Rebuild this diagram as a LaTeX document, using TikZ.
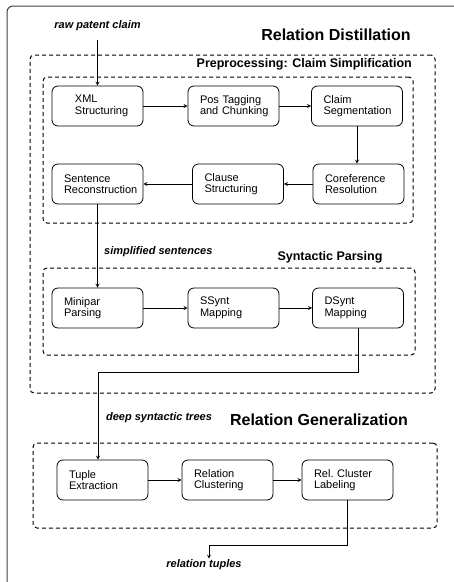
\documentclass[tikz,border=0pt]{standalone}
\usepackage{fontspec}
\setmainfont{Liberation Sans}
\usepackage{tikz}
\usetikzlibrary{arrows}
\usetikzlibrary{shapes}
\usetikzlibrary{positioning}
\tikzstyle{proc}=[shape=rectangle,draw,rounded corners=6pt,line width=0.8pt,minimum width=91pt,minimum height=40pt,text width=79pt,inner xsep=6pt,align=left,font=\fontsize{11}{11.5}\selectfont,execute at begin node={\leftskip=6pt\hyphenpenalty=10000\relax}]
\tikzstyle{grp}=[shape=rectangle,draw,rounded corners=4pt,line width=1pt,dash pattern=on 4pt off 3pt,inner sep=0pt]
\tikzstyle{tran}=[draw,->,>=stealth,line width=0.8pt]
\tikzstyle{flow}=[font=\fontsize{11}{12}\selectfont\bfseries\itshape,inner sep=1pt]
\tikzstyle{stage}=[font=\fontsize{12.5}{14}\selectfont\bfseries,inner sep=1pt]
\tikzstyle{maintitle}=[font=\fontsize{16}{18}\selectfont\bfseries,inner sep=1pt]

\begin{document}
\begin{tikzpicture}[x=1pt,y=-1pt]
\useasboundingbox (0,0) rectangle (454,582);
\draw[black!75,line width=1pt,rounded corners=6pt] (7,582) -- (7,6) -- (454,6);

% groups
\node[grp,minimum width=405pt,minimum height=338pt] (distill) at (232.5,224) {};
\node[grp,minimum width=370pt,minimum height=146pt] (prep) at (228,150) {};
\node[grp,minimum width=372pt,minimum height=87pt] (synt) at (229,311.5) {};
\node[grp,minimum width=404pt,minimum height=85pt] (gen) at (235,485.5) {};

% labels
\node[flow] (raw) at (97.5,26) {raw patent claim};
\node[maintitle] (distlbl) at (336,35) {Relation Distillation};
\node[stage,anchor=east] (preplbl) at (413,64) {Preprocessing: Claim Simplification};
\node[flow,anchor=west] (simpl) at (103,252) {simplified sentences};
\node[stage] (synlbl) at (330,257) {Syntactic Parsing};
\node[flow] (deep) at (159,418) {deep syntactic trees};
\node[maintitle] (genlbl) at (319,420) {Relation Generalization};
\node[flow] (tuples) at (204,565) {relation tuples};

% steps
\node[proc] (xml) at (97.5,106) {\hspace*{11pt}XML\\\hspace*{11pt}Structuring};
\node[proc] (pos) at (233.5,106) {Pos Tagging\\and Chunking};
\node[proc] (claim) at (357,106) {Claim\\Segmentation};
\node[proc] (sent) at (97.5,184) {Sentence\\Reconstruction};
\node[proc] (clause) at (238,184) {Clause\\Structuring};
\node[proc] (coref) at (358.5,184) {Coreference\\Resolution};
\node[proc] (mini) at (97.5,308) {Minipar\\Parsing};
\node[proc] (ssynt) at (233.5,308) {SSynt\\Mapping};
\node[proc] (dsynt) at (358,308) {DSynt\\Mapping};
\node[proc] (tuple) at (102.5,480) {Tuple\\Extraction};
\node[proc] (relclu) at (227.5,480) {Relation\\Clustering};
\node[proc] (rellab) at (347.5,480) {Rel.\ Cluster\\Labeling};

\coordinate (bend1) at (98,372);
\coordinate (bend2) at (209,545);

\draw[tran] ([yshift=-8pt]raw.south) -- (xml);
\draw[tran] (xml) -- (pos);
\draw[tran] (pos) -- (claim);
\draw[tran] (claim) -- (claim|-coref.north);
\draw[tran] (coref) -- (clause);
\draw[tran] (clause) -- (sent);
\draw[tran] (sent) -- (mini);
\draw[tran] (mini) -- (ssynt);
\draw[tran] (ssynt) -- (dsynt);
\draw[tran] (dsynt) -- (dsynt|-bend1) -- (bend1) -- (bend1|-tuple.north);
\draw[tran] (tuple) -- (relclu);
\draw[tran] (relclu) -- (rellab);
\draw[tran] (rellab) -- (rellab|-bend2) -- (bend2) -- (bend2|-tuples.north);
\end{tikzpicture}
\end{document}
